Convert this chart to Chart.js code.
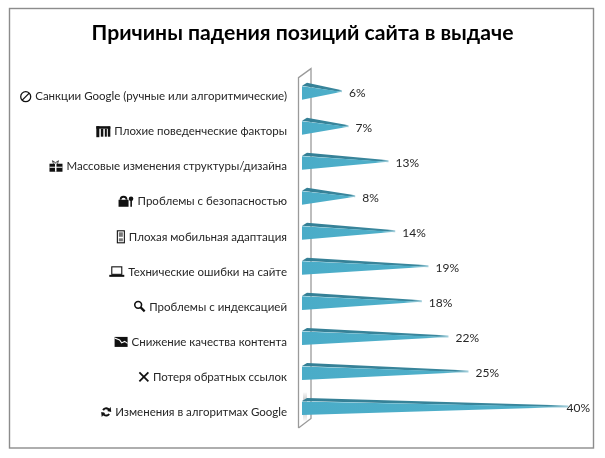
<!DOCTYPE html>
<html><head><meta charset="utf-8">
<style>html,body{margin:0;padding:0;background:#fff}#w{position:absolute;left:0;top:0;width:605px;height:458px}</style>
<script src="https://cdn.jsdelivr.net/npm/chart.js@4"></script></head>
<body><div id="w"><canvas id="c"></canvas></div>
<script>
const titleText='Причины падения позиций сайта в выдаче';
const categories=['Санкции Google (ручные или алгоритмические)','Плохие поведенческие факторы','Массовые изменения структуры/дизайна','Проблемы с безопасностью','Плохая мобильная адаптация','Технические ошибки на сайте','Проблемы с индексацией','Снижение качества контента','Потеря обратных ссылок','Изменения в алгоритмах Google'];
const values=[6,7,13,8,14,19,18,22,25,40];
const icons=['ban','bars','gift','lock','phone','laptop','search','trend','cross','sync'];
const FONT='Lato';
const LABEL_SIZE=11.5;
const ink='#262626';

function drawIcon(ctx,name,r,cy){ // r = right edge of icon, cy = vertical centre
  ctx.save();ctx.fillStyle='#111';ctx.strokeStyle='#111';ctx.lineWidth=1.3;
  const rect=(x,y,w,h)=>ctx.fillRect(r+x,cy+y,w,h);
  const line=(p)=>{ctx.beginPath();p.forEach((q,i)=>i?ctx.lineTo(r+q[0],cy+q[1]):ctx.moveTo(r+q[0],cy+q[1]));ctx.stroke();};
  if(name==='ban'){ctx.beginPath();ctx.arc(r-5.5,cy,5,0,7);ctx.stroke();line([[-9,3.5],[-2,-3.5]]);}
  if(name==='bars'){rect(-14,-5.5,14,2.5);rect(-14,-5.5,3,11);rect(-9.5,-3,2.5,8);rect(-5.5,-3,2,8);rect(-2.5,-5,2.5,10);}
  if(name==='gift'){rect(-13,-3,13,8);ctx.fillStyle='#fff';rect(-7.5,-3,1.5,8);rect(-13,0,13,1);ctx.fillStyle='#111';ctx.lineWidth=.8;line([[-9,-3],[-10,-6],[-7,-4],[-4,-6],[-5,-3]]);}
  if(name==='lock'){rect(-15,-2,10,7);ctx.lineWidth=1.8;ctx.beginPath();ctx.arc(r-10,cy-2,3,Math.PI,0);ctx.stroke();ctx.beginPath();ctx.arc(r-2.5,cy-3,2.3,0,7);ctx.fill();rect(-3.2,-2,1.6,7);}
  if(name==='phone'){ctx.lineWidth=1.1;ctx.strokeRect(r-7.5,cy-6,7,12);ctx.fillStyle='#777';rect(-6,-4.5,4,4.5);rect(-6,1.5,4,3);}
  if(name==='laptop'){ctx.lineWidth=1.1;ctx.strokeRect(r-12.5,cy-5,10,7.5);rect(-15,3,15,2);}
  if(name==='search'){ctx.lineWidth=1.6;ctx.beginPath();ctx.arc(r-7,cy-2,3.4,0,7);ctx.stroke();ctx.lineWidth=2.2;line([[-4.5,.5],[-.5,4.5]]);}
  if(name==='trend'){rect(-13,-5,13,10);ctx.strokeStyle='#fff';ctx.lineWidth=1.1;line([[-13,-4],[-8,-2],[-6,1],[-3,-.5],[0,1.5]]);}
  if(name==='cross'){ctx.lineWidth=1.8;line([[-9.5,-4.5],[-.5,4.5]]);line([[-.5,-4.5],[-9.5,4.5]]);}
  if(name==='sync'){ctx.lineWidth=2;ctx.beginPath();ctx.arc(r-5,cy,3.6,-2.6,-.3);ctx.stroke();ctx.beginPath();ctx.arc(r-5,cy,3.6,.6,2.9);ctx.stroke();
    ctx.beginPath();ctx.moveTo(r-.5,cy-5);ctx.lineTo(r,cy);ctx.lineTo(r-4,cy-1);ctx.fill();
    ctx.beginPath();ctx.moveTo(r-9.5,cy+5);ctx.lineTo(r-10,cy);ctx.lineTo(r-6,cy+1);ctx.fill();}
  ctx.restore();
}

const scene={id:'scene',
  beforeDraw(chart){const c=chart.ctx;c.save();c.fillStyle='#fff';c.fillRect(0,0,605,458);
    c.strokeStyle='#8c8c8c';c.lineWidth=1.4;c.strokeRect(9.5,8.5,584,439.5);c.restore();},
  beforeDatasetsDraw(chart){const c=chart.ctx,a=chart.chartArea,L=a.left,T=a.top,B=a.bottom;
    c.save();
    const g=c.createLinearGradient(0,B-34,0,B-6);g.addColorStop(0,'rgba(170,170,170,0)');g.addColorStop(.5,'#b0b0b0');g.addColorStop(1,'rgba(190,190,190,.2)');
    c.fillStyle=g;c.fillRect(L+1,B-33,4,28);
    c.strokeStyle='#9a9a9a';c.lineWidth=1.3;c.beginPath();
    c.moveTo(L-3.5,B+2.5);c.lineTo(L-3.5,T+2.5);c.lineTo(L+9,T-6.5);c.lineTo(L+9,B-7);c.lineTo(L-3.5,B+2.5);c.stroke();c.restore();},
  beforeDatasetDraw(chart,args){const c=chart.ctx,els=args.meta.data;
    els.forEach(e=>{const x0=e.base,x1=e.x,h=e.height/2,y=e.y;
      c.save();
      const tg=c.createLinearGradient(x0,0,x1,0);tg.addColorStop(0,'#347f95');tg.addColorStop(.92,'#3a879d');tg.addColorStop(1,'#a9d3df');
      c.fillStyle=tg;c.beginPath();c.moveTo(x0,y-h);c.lineTo(x0+5,y-h-3);c.lineTo(x1,y-2.5);c.lineTo(x1,y-.5);c.closePath();c.fill();
      const fg=c.createLinearGradient(x0,0,x1,0);fg.addColorStop(0,'#4aacc8');fg.addColorStop(.85,'#4fafc9');fg.addColorStop(1,'#bfe3ec');
      c.fillStyle=fg;c.beginPath();c.moveTo(x0,y-h+.5);c.lineTo(x1,y-1);c.lineTo(x0,y+h);c.closePath();c.fill();
      c.restore();});
    return false;},
  afterDatasetsDraw(chart){const c=chart.ctx,meta=chart.getDatasetMeta(0),a=chart.chartArea;
    c.save();c.textBaseline='middle';c.textAlign='left';c.fillStyle=ink;
    meta.data.forEach((e,i)=>{const t=values[i]+'%';
      c.font='12px '+FONT;const w=c.measureText(t).width;
      c.fillText(t,Math.min(e.x+7,590-w),e.y);
      c.font=LABEL_SIZE+'px '+FONT;const lw=c.measureText(categories[i]).width;
      drawIcon(c,icons[i],a.left-15-lw-4,e.y+4);});
    c.restore();}
};

new Chart(document.getElementById('c'),{type:'bar',
  data:{labels:categories,datasets:[{data:values,backgroundColor:'#4bacc6',barPercentage:.4,categoryPercentage:1}]},
  options:{indexAxis:'y',responsive:true,maintainAspectRatio:false,animation:false,events:[],
    layout:{padding:{left:0,right:0,top:0,bottom:32.5}},
    plugins:{legend:{display:false},tooltip:{enabled:false},
      title:{display:true,text:titleText,color:'#000',font:{family:FONT,size:21.2,weight:'bold'},padding:{top:20,bottom:29.7}}},
    scales:{
      x:{display:false,min:0,max:45.5},
      y:{afterFit(s){s.width=302;},grid:{display:false,drawTicks:false},border:{display:false},
        ticks:{color:ink,font:{family:FONT,size:LABEL_SIZE},padding:15,labelOffset:4,autoSkip:false}}
    }},
  plugins:[scene]});
</script></body></html>
